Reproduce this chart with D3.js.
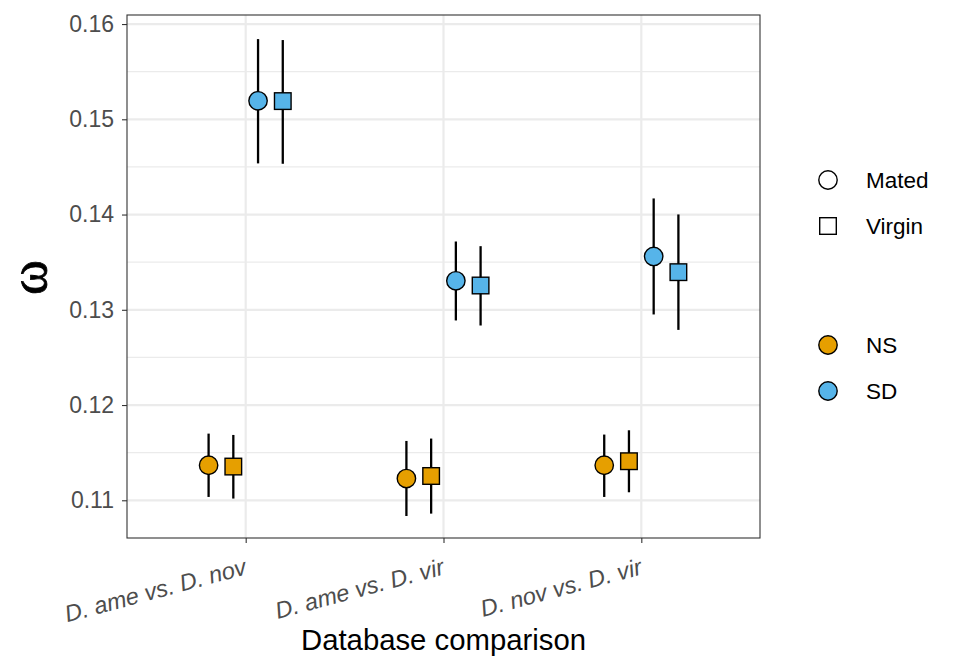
<!DOCTYPE html>
<html>
<head>
<meta charset="utf-8">
<script src="https://cdn.jsdelivr.net/npm/d3@7"></script>
<style>
  body { margin: 0; background: #fff; }
  text { font-family: "Liberation Sans", Arial, sans-serif; }
</style>
</head>
<body>
<svg id="chart" width="960" height="672"></svg>
<script>
// data
const comparisons = ["D. ame vs. D. nov", "D. ame vs. D. vir", "D. nov vs. D. vir"];
const groups = ["NS", "SD"];
const statuses = ["Mated", "Virgin"];

// omega estimates, one row per group+status, one value per comparison
const nsMated  = [0.11368, 0.11228, 0.11368];
const nsVirgin = [0.11354, 0.11255, 0.11410];
const sdMated  = [0.15194, 0.13304, 0.13560];
const sdVirgin = [0.15191, 0.13255, 0.13395];

const nsMatedLo  = [0.11035, 0.10835, 0.11035];
const nsMatedHi  = [0.11700, 0.11623, 0.11690];
const nsVirginLo = [0.11018, 0.10860, 0.11084];
const nsVirginHi = [0.11686, 0.11648, 0.11735];
const sdMatedLo  = [0.14537, 0.12888, 0.12951];
const sdMatedHi  = [0.15842, 0.13717, 0.14169];
const sdVirginLo = [0.14533, 0.12835, 0.12789];
const sdVirginHi = [0.15832, 0.13668, 0.14001];

const yTicks = [0.11, 0.12, 0.13, 0.14, 0.15, 0.16];
const yMinor = [0.115, 0.125, 0.135, 0.145, 0.155];

const colors = { NS: "#E69F00", SD: "#56B4E9" };

// build long table
const series = [
    { group: "NS", status: "Mated",  y: nsMated,  lo: nsMatedLo,  hi: nsMatedHi },
    { group: "NS", status: "Virgin", y: nsVirgin, lo: nsVirginLo, hi: nsVirginHi },
    { group: "SD", status: "Mated",  y: sdMated,  lo: sdMatedLo,  hi: sdMatedHi },
    { group: "SD", status: "Virgin", y: sdVirgin, lo: sdVirginLo, hi: sdVirginHi }
];
const rows = [];
series.forEach((s, si) => {
    comparisons.forEach((c, i) => {
        rows.push({ comp: c, key: si, group: s.group, status: s.status, y: s.y[i], lo: s.lo[i], hi: s.hi[i] });
    });
});

const svg = d3.select("#chart");
const margin = { left: 127, right: 200, top: 15, bottom: 134 };
const W = 960, H = 672;
const x0 = margin.left, x1 = W - margin.right, yTop = margin.top, yBot = H - margin.bottom;

const x = d3.scalePoint().domain(comparisons).range([x0, x1]).padding(0.6);
const step = x.step();
const dodge = d3.scaleBand().domain([0, 1, 2, 3]).range([-0.25 * step, 0.25 * step]);
const y = d3.scaleLinear().domain([0.10604, 0.16095]).range([yBot, yTop]);

// panel gridlines
const grid = svg.append("g");
grid.selectAll(".minor").data(yMinor).join("line")
    .attr("x1", x0).attr("x2", x1)
    .attr("y1", d => y(d)).attr("y2", d => y(d))
    .attr("stroke", "#ebebeb").attr("stroke-width", 1.1);
grid.selectAll(".major").data(yTicks).join("line")
    .attr("x1", x0).attr("x2", x1)
    .attr("y1", d => y(d)).attr("y2", d => y(d))
    .attr("stroke", "#ebebeb").attr("stroke-width", 2.2);
grid.selectAll(".xmajor").data(comparisons).join("line")
    .attr("x1", d => x(d)).attr("x2", d => x(d))
    .attr("y1", yTop).attr("y2", yBot)
    .attr("stroke", "#ebebeb").attr("stroke-width", 2.2);

// error bars
const cx = d => x(d.comp) + dodge(d.key) + dodge.bandwidth() / 2;
svg.append("g").selectAll("line").data(rows).join("line")
    .attr("x1", cx).attr("x2", cx)
    .attr("y1", d => y(d.lo)).attr("y2", d => y(d.hi))
    .attr("stroke", "#000").attr("stroke-width", 2.3);

// points
const pts = svg.append("g");
pts.selectAll("circle").data(rows.filter(d => d.status === "Mated")).join("circle")
    .attr("cx", cx).attr("cy", d => y(d.y)).attr("r", 9.2)
    .attr("fill", d => colors[d.group]).attr("stroke", "#000").attr("stroke-width", 1.4);
pts.selectAll("rect").data(rows.filter(d => d.status === "Virgin")).join("rect")
    .attr("x", d => cx(d) - 8.3).attr("y", d => y(d.y) - 8.3)
    .attr("width", 16.6).attr("height", 16.6)
    .attr("fill", d => colors[d.group]).attr("stroke", "#000").attr("stroke-width", 1.4);

// panel border
svg.append("rect")
    .attr("x", x0).attr("y", yTop).attr("width", x1 - x0).attr("height", yBot - yTop)
    .attr("fill", "none").attr("stroke", "#333").attr("stroke-width", 1.1);

// y axis
const yAxis = svg.append("g").attr("transform", `translate(${x0},0)`)
    .call(d3.axisLeft(y).tickValues(yTicks).tickFormat(d3.format(".2f")).tickSize(5).tickPadding(8));
yAxis.attr("font-size", null).attr("font-family", null);
yAxis.select(".domain").remove();
yAxis.selectAll(".tick line").attr("stroke", "#333").attr("stroke-width", 1.1);
yAxis.selectAll(".tick text").attr("fill", "#4d4d4d").style("font-size", "23px");

// x axis
const xAxis = svg.append("g").attr("transform", `translate(0,${yBot})`)
    .call(d3.axisBottom(x).tickSize(5).tickFormat(""));
xAxis.select(".domain").remove();
xAxis.selectAll(".tick line").attr("stroke", "#333").attr("stroke-width", 1.1);
svg.append("g").selectAll("text").data(comparisons).join("text")
    .attr("transform", d => `translate(${x(d) + 2},${yBot + 36}) rotate(-15)`)
    .attr("text-anchor", "end")
    .attr("fill", "#4d4d4d")
    .style("font-size", "23.5px").style("font-style", "italic")
    .text(d => d);

// axis titles
svg.append("text")
    .attr("x", (x0 + x1) / 2).attr("y", 650)
    .attr("text-anchor", "middle")
    .style("font-size", "29.3px")
    .text("Database comparison");
svg.append("text")
    .attr("transform", `translate(46,${(yTop + yBot) / 2 + 1}) rotate(-90)`)
    .attr("text-anchor", "middle")
    .style("font-family", "Liberation Serif, serif")
    .style("font-size", "53px")
    .attr("stroke", "#000").attr("stroke-width", 0.8)
    .text("ω");

// legends
const legShape = svg.append("g");
const shapeY = { Mated: 180, Virgin: 226 };
legShape.append("circle").attr("cx", 828).attr("cy", shapeY.Mated).attr("r", 9.2)
    .attr("fill", "none").attr("stroke", "#000").attr("stroke-width", 1.4);
legShape.append("rect").attr("x", 828 - 8.3).attr("y", shapeY.Virgin - 8.3)
    .attr("width", 16.6).attr("height", 16.6)
    .attr("fill", "none").attr("stroke", "#000").attr("stroke-width", 1.4);
statuses.forEach(s => {
    legShape.append("text").attr("x", 866).attr("y", shapeY[s])
        .attr("dominant-baseline", "central").style("font-size", "22.5px").text(s);
});

const groupY = { NS: 345, SD: 391 };
const legGroup = svg.append("g");
groups.forEach(g => {
    legGroup.append("circle").attr("cx", 828).attr("cy", groupY[g]).attr("r", 9.2)
        .attr("fill", colors[g]).attr("stroke", "#000").attr("stroke-width", 1.4);
    legGroup.append("text").attr("x", 866).attr("y", groupY[g])
        .attr("dominant-baseline", "central").style("font-size", "22.5px").text(g);
});
</script>
</body>
</html>
